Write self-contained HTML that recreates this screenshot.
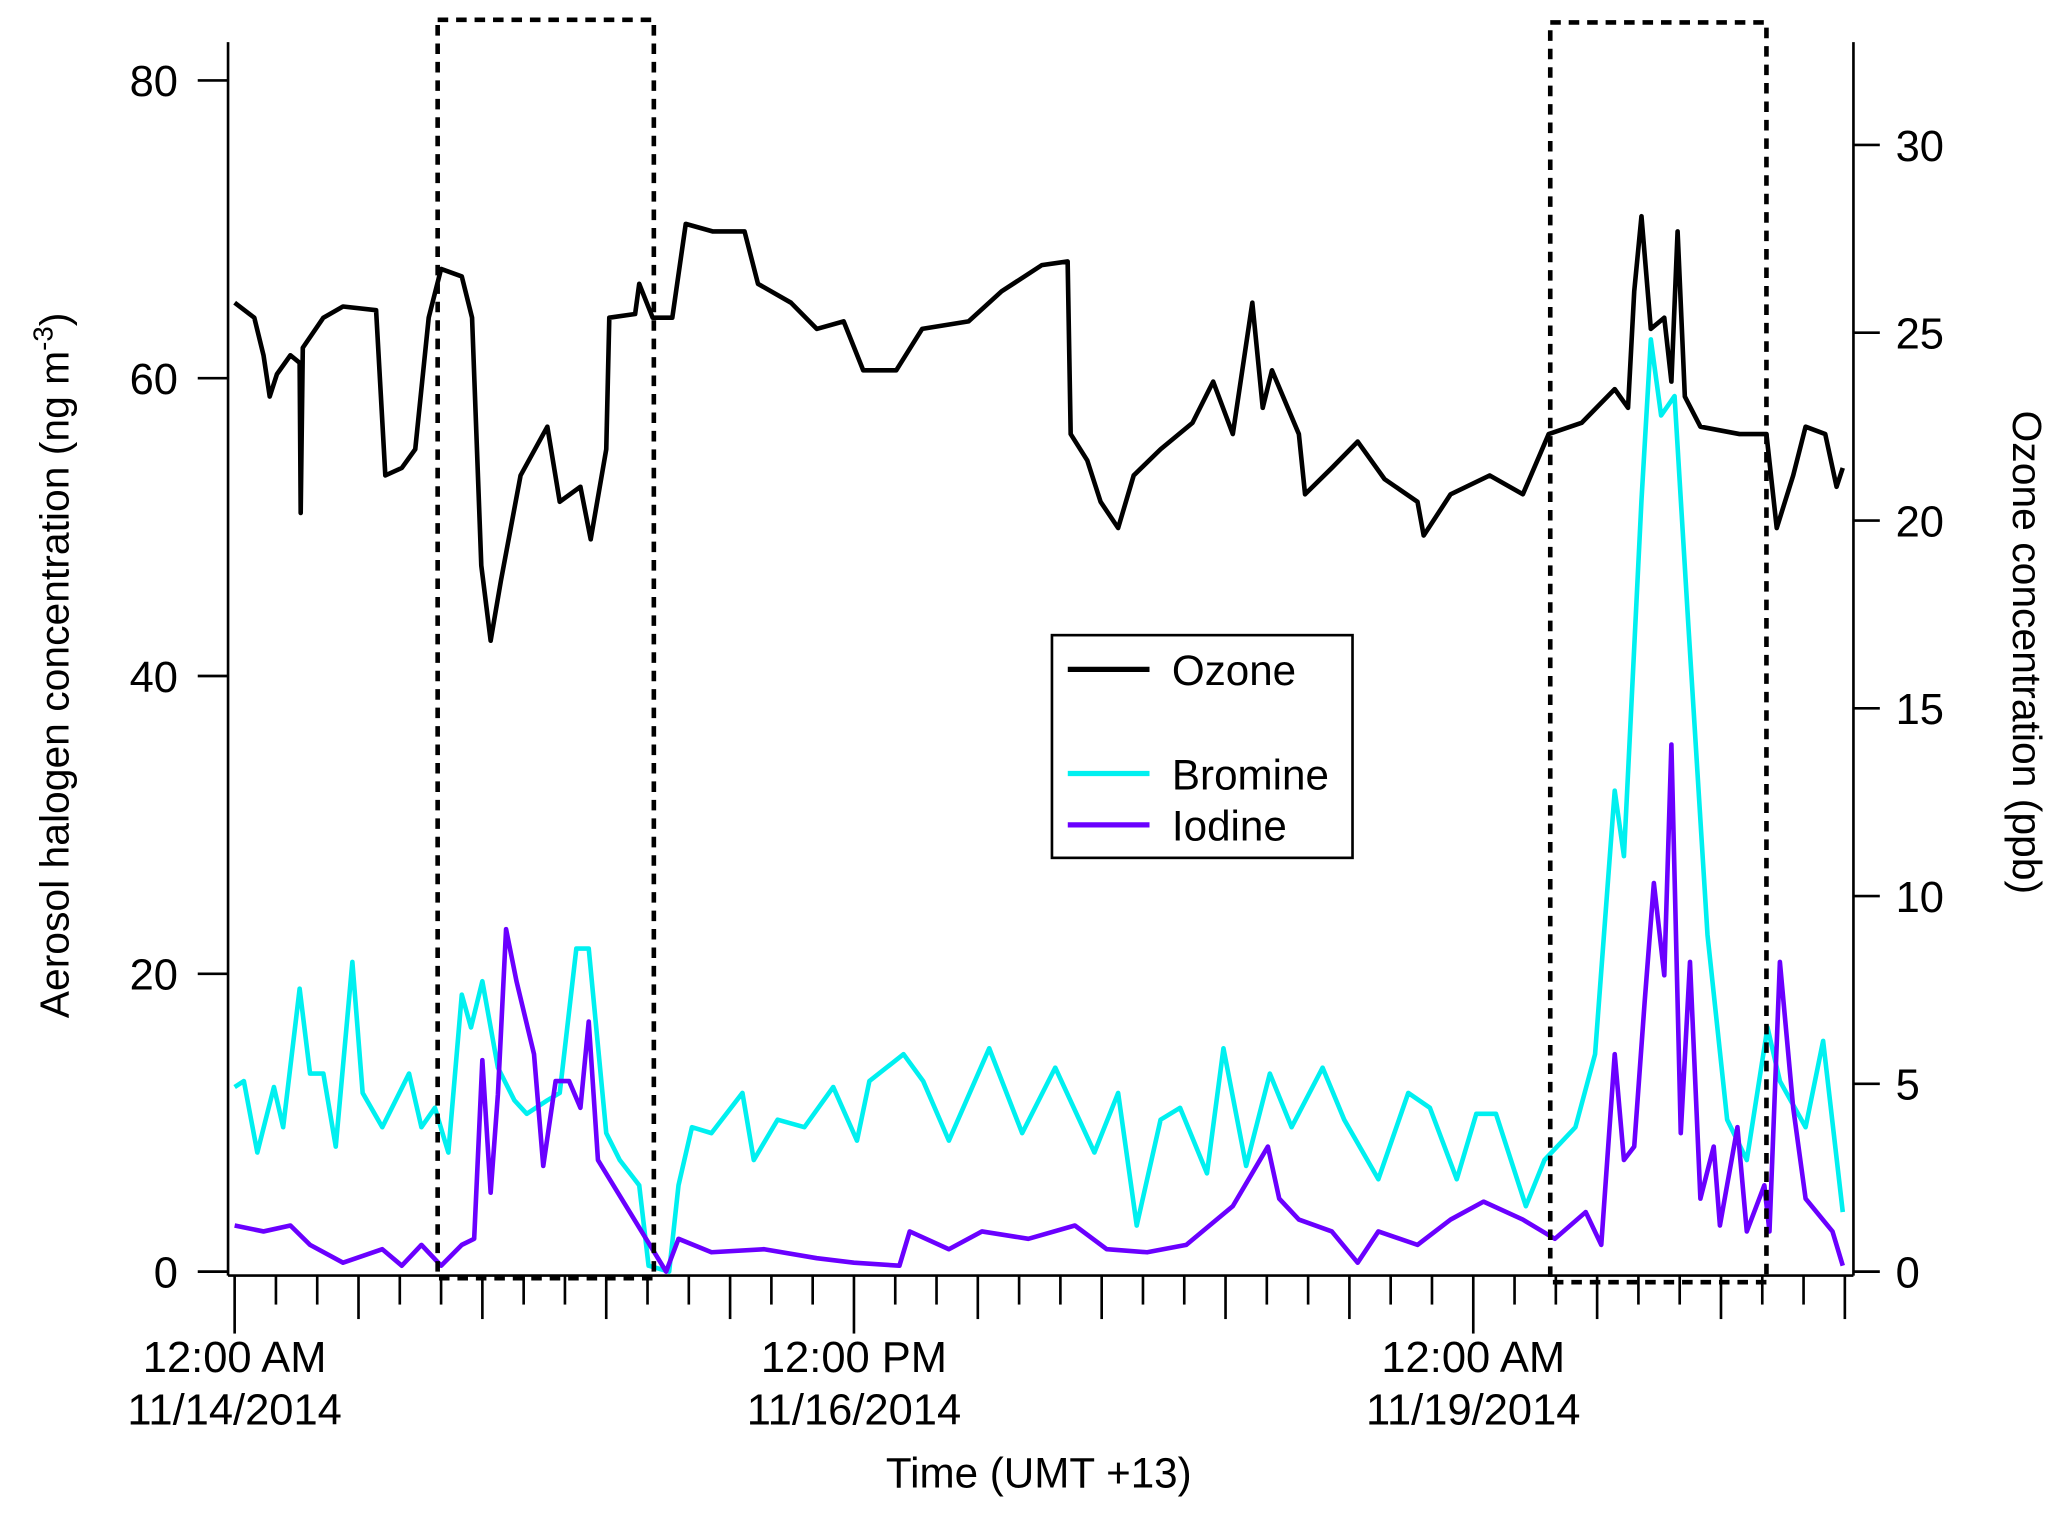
<!DOCTYPE html>
<html><head><meta charset="utf-8"><style>
html,body{margin:0;padding:0;background:#fff}
svg{display:block}
text{font-family:"Liberation Sans",sans-serif;fill:#000}
</style></head><body>
<svg id="chart" width="2067" height="1522" viewBox="0 0 1568 1155" preserveAspectRatio="none">
<g id="plot"></g>
</svg>
<script>
const ozoneHours=[0,1.9,2.8,3.4,4.1,5.4,6.3,6.4,6.6,8.6,10.5,13.7,14.6,16.2,17.5,18.8,20.0,22,23,23.9,24.8,25.8,27.7,30.3,31.5,33.5,34.5,36,36.3,38.8,39.2,40.5,42.4,43.7,46.3,49.4,50.7,53.9,56.4,59,60.9,64.1,66.6,71.1,74.3,78.2,80.7,81,82.6,83.9,85.6,87.1,89.7,92.8,94.8,96.7,98.6,99.6,100.5,103.1,103.7,106.3,108.8,111.4,114.6,115.2,117.8,121.6,124.8,127.3,130.5,133.7,135,135.6,136.3,137.2,138.5,139.2,139.8,140.5,142,145.8,148.4,149.4,151,152.2,154.1,155.2,155.8];
const ozonePpb=[25.8,25.4,24.4,23.3,23.9,24.4,24.2,20.2,24.6,25.4,25.7,25.6,21.2,21.4,21.9,25.4,26.7,26.5,25.4,18.8,16.8,18.4,21.2,22.5,20.5,20.9,19.5,21.9,25.4,25.5,26.3,25.4,25.4,27.9,27.7,27.7,26.3,25.8,25.1,25.3,24.0,24.0,25.1,25.3,26.1,26.8,26.9,22.3,21.6,20.5,19.8,21.2,21.9,22.6,23.7,22.3,25.8,23.0,24.0,22.3,20.7,21.4,22.1,21.1,20.5,19.6,20.7,21.2,20.7,22.3,22.6,23.5,23.0,26.1,28.1,25.1,25.4,23.7,27.7,23.3,22.5,22.3,22.3,19.8,21.2,22.5,22.3,20.9,21.4];
const bromineHours=[0,0.9,2.2,3.8,4.7,6.3,7.3,8.6,9.8,11.4,12.4,14.3,16.9,18.1,19.4,20.7,22,22.9,24,25.5,27.1,28.3,30.3,31.5,33.1,34.3,36,37.3,39.2,40.1,42.1,43,44.3,46.2,49.2,50.3,52.6,55.2,58,60.3,61.5,64.8,66.7,69.2,73.1,76.3,79.5,83.3,85.6,87.4,89.7,91.6,94.2,95.8,98,100.3,102.4,105.4,107.5,110.8,113.7,115.8,118.4,120.3,122.2,125.1,126.9,129.9,131.8,133.7,134.6,136.3,137.2,138.2,139.5,140.8,142.7,144.6,146.5,148.5,149.7,152.2,153.9,155.8];
const bromineVals=[12.4,12.8,8,12.4,9.7,19,13.3,13.3,8.4,20.8,12,9.7,13.3,9.7,11,8,18.6,16.4,19.5,13.7,11.5,10.6,11.5,12,21.7,21.7,9.3,7.5,5.8,0.4,0,5.8,9.7,9.3,12,7.5,10.2,9.7,12.4,8.8,12.8,14.6,12.8,8.8,15,9.3,13.7,8,12,3.1,10.2,11,6.6,15,7.1,13.3,9.7,13.7,10.2,6.2,12,11,6.2,10.6,10.6,4.4,7.5,9.7,14.6,32.3,27.9,51.8,62.6,57.5,58.8,43.8,22.6,10.2,7.5,16.4,12.8,9.7,15.5,4];
const iodineHours=[0,2.8,5.4,7.3,10.5,14.3,16.2,18.1,20,22,23.2,24,24.8,25.5,26.3,27.3,29,29.9,31.1,32.4,33.5,34.3,35.2,41.8,43,46.2,51.3,56.4,60,64.4,65.4,69.2,72.4,76.9,81.4,84.5,88.4,92.2,96.7,100.1,101.2,103.1,106.3,108.8,110.8,114.6,117.8,121,124.8,127.9,130.9,132.4,133.7,134.6,135.6,136.6,137.5,138.5,139.2,140.1,141,142,143.3,143.9,145.6,146.5,148.2,148.7,149.7,151,152.2,154.8,155.8];
const iodineVals=[3.1,2.7,3.1,1.8,0.6,1.5,0.4,1.8,0.4,1.8,2.2,14.2,5.3,11.9,23,19.5,14.6,7.1,12.8,12.8,11,16.8,7.5,0,2.2,1.3,1.5,0.9,0.6,0.4,2.7,1.5,2.7,2.2,3.1,1.5,1.3,1.8,4.4,8.4,4.9,3.5,2.7,0.6,2.7,1.8,3.5,4.7,3.5,2.2,4,1.8,14.6,7.5,8.4,18.1,26.1,19.9,35.4,9.3,20.8,4.9,8.4,3.1,9.7,2.7,5.8,2.7,20.8,11,4.9,2.7,0.4];
const leftTicks=[0,20,40,60,80];
const rightTicks=[0,5,10,15,20,25,30];
const dateLabels=[["12:00 AM","11/14/2014",0],["12:00 PM","11/16/2014",60],["12:00 AM","11/19/2014",120]];

const X0=178, PXH=7.83;
const xs=h=>X0+h*PXH;
const yL=v=>965-v*11.3;
const yR=v=>965-v*28.5;
const NS="http://www.w3.org/2000/svg";
const g=document.getElementById('plot');
function mk(tag,attrs,parent){const e=document.createElementNS(NS,tag);for(const k in attrs)e.setAttribute(k,attrs[k]);(parent||g).appendChild(e);return e;}

let e;
e=mk('line',{x1:173,y1:32,x2:173,y2:968,stroke:'#000','stroke-width':2});


e=mk('line',{x1:1406,y1:32,x2:1406,y2:968,stroke:'#000','stroke-width':2});


e=mk('line',{x1:173,y1:968,x2:1406,y2:968,stroke:'#000','stroke-width':2});



leftTicks.forEach(v=>{
  mk('line',{x1:150,y1:yL(v),x2:173,y2:yL(v),stroke:'#000','stroke-width':2});
  e=mk('text',{x:135,y:yL(v)+12,'font-size':33,'text-anchor':'end'});
  e.textContent=v;
  
  
});
rightTicks.forEach(v=>{
  mk('line',{x1:1406,y1:yR(v),x2:1426,y2:yR(v),stroke:'#000','stroke-width':2});
  e=mk('text',{x:1438,y:yR(v)+12,'font-size':33,'text-anchor':'start'});
  e.textContent=v;
  
  
});
for(let h=0;h<=156;h+=4){
  const len = h%60===0?44:(h%12===0?33:22);
  mk('line',{x1:xs(h),y1:968,x2:xs(h),y2:968+len,stroke:'#000','stroke-width':2});
}
dateLabels.forEach(d=>{
  e=mk('text',{x:xs(d[2]),y:1041,'font-size':33,'text-anchor':'middle'});
  e.textContent=d[0];
  
  
  e=mk('text',{x:xs(d[2]),y:1081,'font-size':33,'text-anchor':'middle'});
  e.textContent=d[1];
  
  
});

function series(hs,vs,yf,color,name){
  const d=hs.map((h,i)=>(i?'L':'M')+xs(h).toFixed(1)+','+yf(vs[i]).toFixed(1)).join('');
  const p=mk('path',{d:d,fill:'none',stroke:color,'stroke-width':3.5,'stroke-linejoin':'round'});
  
  
}
series(bromineHours,bromineVals,yL,'#00f0f0','bromine-line');
series(iodineHours,iodineVals,yL,'#6a00ff','iodine-line');
series(ozoneHours,ozonePpb,yR,'#000','ozone-line');

e=mk('rect',{x:332,y:15,width:164,height:955,fill:'none',stroke:'#000','stroke-width':3.5,'stroke-dasharray':'8,6'});


e=mk('rect',{x:1176,y:17,width:164,height:956,fill:'none',stroke:'#000','stroke-width':3.5,'stroke-dasharray':'8,6'});



const lg=mk('g',{});


mk('rect',{x:798,y:482,width:228,height:169,fill:'#fff',stroke:'#000','stroke-width':2},lg);
[['Ozone','#000',508],['Bromine','#00f0f0',587],['Iodine','#6a00ff',626]].forEach(l=>{
  const it=mk('g',{},lg);
  
  
  mk('line',{x1:810,y1:l[2],x2:872,y2:l[2],stroke:l[1],'stroke-width':4},it);
  const t=mk('text',{x:889,y:l[2]+12,'font-size':32},it);
  t.textContent=l[0];
});

e=mk('text',{x:788,y:1129,'font-size':32,'text-anchor':'middle'});
e.textContent='Time (UMT +13)';


e=mk('text',{transform:'translate(52,505) rotate(-90)','font-size':31,'text-anchor':'middle'});
e.innerHTML='Aerosol halogen concentration (ng m<tspan dy="-12" font-size="21">-3</tspan><tspan dy="12">)</tspan>';


e=mk('text',{transform:'translate(1527,495) rotate(90)','font-size':31,'text-anchor':'middle'});
e.textContent='Ozone concentration (ppb)';


</script>
</body></html>
